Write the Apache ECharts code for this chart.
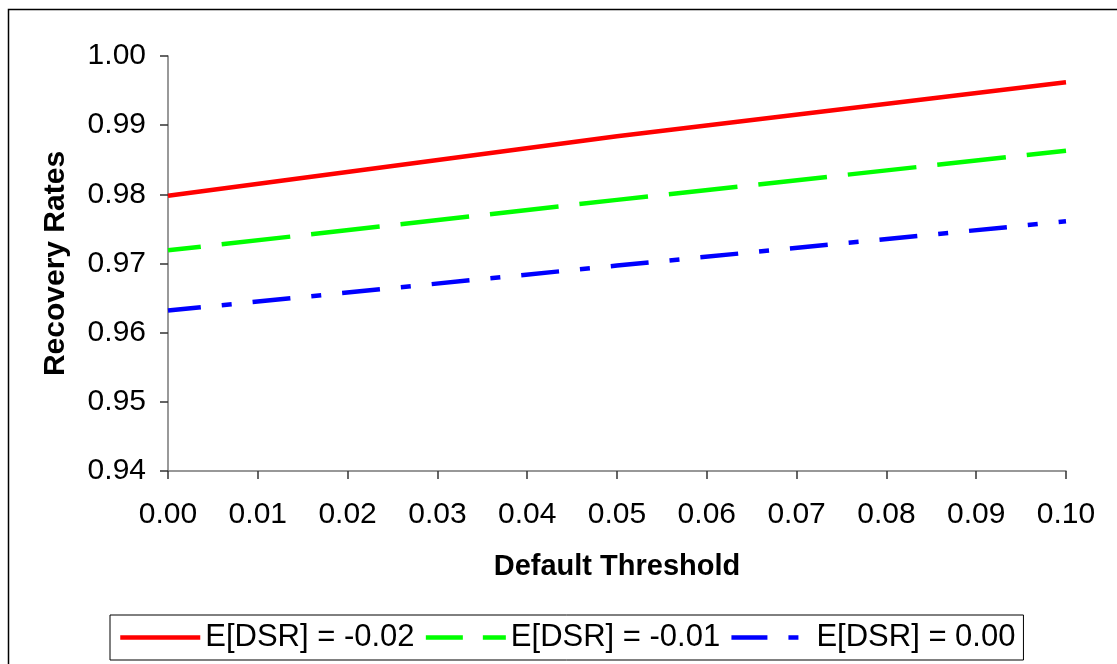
<!DOCTYPE html>
<html>
<head>
<meta charset="utf-8">
<script src="https://cdn.jsdelivr.net/npm/echarts@6/dist/echarts.min.js"></script>
<style>
html,body{margin:0;padding:0;background:#fff;}
#chart{width:1117px;height:664px;}
</style>
</head>
<body>
<div id="chart"></div>
<script>
const thresholds = [0.00, 0.05, 0.10];
const seriesNames = ['E[DSR] = -0.02', 'E[DSR] = -0.01', 'E[DSR] = 0.00'];
const rateDsrM002 = [0.9798, 0.9884, 0.9962];
const rateDsrM001 = [0.9719, 0.9792, 0.9863];
const rateDsr000  = [0.9632, 0.9697, 0.9761];
const yTicks = { min: 0.94, max: 1.00, step: 0.01 };
const xTicks = { min: 0.00, max: 0.10, step: 0.01 };

const FONT = 'Liberation Sans, Arial, sans-serif';
const chart = echarts.init(document.getElementById('chart'));

function pairs(ys) { return thresholds.map((x, i) => [x, ys[i]]); }

chart.setOption({
  animation: false,
  backgroundColor: '#fff',
  graphic: [{
    type: 'rect',
    shape: { x: 8.5, y: 9.5, width: 1200, height: 700 },
    style: { fill: 'none', stroke: '#000', lineWidth: 1.5 },
    silent: true
  }],
  grid: { left: 168, right: 51, top: 56, bottom: 193, containLabel: false },
  xAxis: {
    type: 'value',
    min: xTicks.min, max: xTicks.max, interval: xTicks.step,
    name: 'Default Threshold',
    nameLocation: 'middle',
    nameGap: 81,
    nameTextStyle: { fontFamily: FONT, fontSize: 29, fontWeight: 'bold', color: '#000' },
    axisLine: { lineStyle: { color: '#777', width: 1.5 } },
    axisTick: { inside: false, length: 8, lineStyle: { color: '#333', width: 1.5 } },
    axisLabel: { margin: 29, fontFamily: FONT, fontSize: 30, color: '#000',
      formatter: v => v.toFixed(2) },
    splitLine: { show: false }
  },
  yAxis: {
    type: 'value',
    min: yTicks.min, max: yTicks.max, interval: yTicks.step,
    name: 'Recovery Rates',
    nameLocation: 'middle',
    nameGap: 97,
    nameTextStyle: { fontFamily: FONT, fontSize: 30, fontWeight: 'bold', color: '#000' },
    axisLine: { show: true, lineStyle: { color: '#777', width: 1.5 } },
    axisTick: { show: true, inside: false, length: 8, lineStyle: { color: '#333', width: 1.5 } },
    axisLabel: { margin: 22, fontFamily: FONT, fontSize: 30, color: '#000',
      formatter: v => v.toFixed(2) },
    splitLine: { show: false }
  },
  legend: {
    left: 110, top: 615,
    padding: [7, 8, 7, 8],
    itemGap: 9,
    itemWidth: 80, itemHeight: 10,
    borderColor: '#000', borderWidth: 1,
    backgroundColor: '#fff',
    textStyle: { fontFamily: FONT, fontSize: 31, color: '#000', lineHeight: 31 },
    data: [
      { name: seriesNames[0], itemStyle: { opacity: 0 },
        lineStyle: { color: '#ff0000', width: 4.5, type: 'solid', dashOffset: 0 } },
      { name: seriesNames[1], itemStyle: { opacity: 0 },
        lineStyle: { color: '#00ff00', width: 4.5, type: [37, 20], dashOffset: 0 } },
      { name: seriesNames[2], itemStyle: { opacity: 0 },
        lineStyle: { color: '#0000ff', width: 4.5, type: [36, 21, 10, 21], dashOffset: 0 } }
    ]
  },
  series: [
    {
      name: seriesNames[0], type: 'line', data: pairs(rateDsrM002),
      showSymbol: false, symbol: 'none', smooth: false,
      lineStyle: { color: '#ff0000', width: 4.5, type: 'solid' },
      itemStyle: { color: '#ff0000' }
    },
    {
      name: seriesNames[1], type: 'line', data: pairs(rateDsrM001),
      showSymbol: false, symbol: 'none', smooth: false,
      lineStyle: { color: '#00ff00', width: 4.5, type: [69, 21], dashOffset: 36 },
      itemStyle: { color: '#00ff00' }
    },
    {
      name: seriesNames[2], type: 'line', data: pairs(rateDsr000),
      showSymbol: false, symbol: 'none', smooth: false,
      lineStyle: { color: '#0000ff', width: 4.5, type: [38, 21, 10, 21], dashOffset: 5 },
      itemStyle: { color: '#0000ff' }
    }
  ]
});
</script>
</body>
</html>
